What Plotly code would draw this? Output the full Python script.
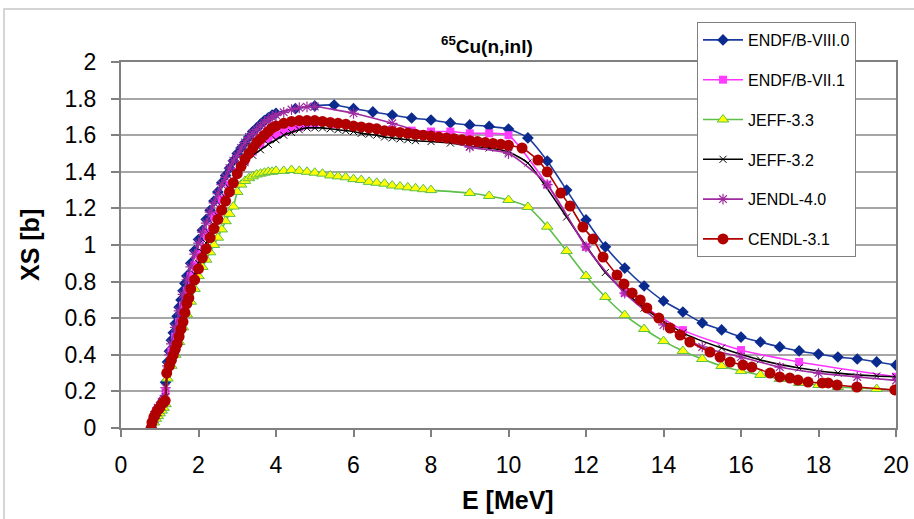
import plotly.graph_objects as go

# ---------------- data ----------------
E_b8 = [0.78, 0.82, 0.86, 0.9, 0.95, 1.0, 1.05, 1.1, 1.15, 1.2, 1.25, 1.3, 1.35, 1.4, 1.45, 1.5, 1.55, 1.6, 1.65, 1.7,
        1.8, 1.9, 2.0, 2.1, 2.2, 2.3, 2.4, 2.5, 2.6, 2.7, 2.8, 2.9, 3.0, 3.1, 3.2, 3.3, 3.4, 3.5, 3.6, 3.7, 3.8, 3.9, 4.0,
        4.5, 5.0, 5.5, 6.0, 6.5, 7.0, 7.5, 8.0, 8.5, 9.0, 9.5, 10.0, 10.5, 11.0, 11.5, 12.0, 12.5, 13.0, 13.5, 14.0,
        14.5, 15.0, 15.5, 16.0, 16.5, 17.0, 17.5, 18.0, 18.5, 19.0, 19.5, 20.0]
XS_b8 = [0.0, 0.03, 0.06, 0.08, 0.10, 0.12, 0.14, 0.16, 0.25, 0.36, 0.42, 0.48, 0.52, 0.57, 0.61, 0.66, 0.70, 0.75, 0.79, 0.83,
         0.90, 0.97, 1.03, 1.08, 1.14, 1.19, 1.24, 1.29, 1.34, 1.38, 1.42, 1.46, 1.50, 1.53, 1.56, 1.59, 1.62, 1.64, 1.66, 1.68, 1.695, 1.71, 1.72,
         1.745, 1.76, 1.765, 1.745, 1.727, 1.71, 1.694, 1.683, 1.667, 1.656, 1.648, 1.634, 1.585, 1.459, 1.30, 1.137, 0.99, 0.874, 0.776, 0.694,
         0.634, 0.574, 0.536, 0.497, 0.47, 0.443, 0.421, 0.404, 0.388, 0.377, 0.361, 0.344]

E_b7 = [0.78, 0.8, 0.85, 0.9, 0.95, 1.0, 1.05, 1.1, 1.15, 1.2, 1.3, 1.4, 1.5, 1.6, 1.7, 1.8, 1.9, 2.0, 2.2, 2.4, 2.6, 2.8,
        3.0, 3.2, 3.4, 3.6, 3.8, 4.0, 4.2, 4.4, 4.6, 4.8, 5.0, 5.5, 6.0, 6.5, 7.0, 7.5, 8.0, 8.5, 9.0, 9.5, 10.0,
        11.0, 12.0, 13.0, 14.5, 16.0, 17.5, 20.0]
XS_b7 = [0.0, 0.03, 0.06, 0.08, 0.10, 0.11, 0.13, 0.15, 0.20, 0.32, 0.42, 0.50, 0.58, 0.67, 0.75, 0.83, 0.89, 0.95, 1.06, 1.16, 1.25, 1.33,
         1.40, 1.46, 1.51, 1.55, 1.58, 1.60, 1.62, 1.635, 1.645, 1.655, 1.66, 1.66, 1.65, 1.64, 1.63, 1.625, 1.62, 1.62, 1.61, 1.61, 1.60,
         1.33, 0.99, 0.74, 0.535, 0.426, 0.361, 0.28]

E_j33 = [0.78, 0.85, 0.9, 0.95, 1.0, 1.05, 1.1, 1.15, 1.2, 1.3, 1.4, 1.5, 1.6, 1.7, 1.8, 1.9, 2.0, 2.1, 2.2, 2.3, 2.4, 2.5,
         2.6, 2.7, 2.8, 2.9, 3.0, 3.1, 3.2, 3.3, 3.4, 3.5, 3.6, 3.7, 3.8, 3.9, 4.0, 4.2, 4.4, 4.6, 4.8, 5.0, 5.2, 5.4,
         5.6, 5.8, 6.0, 6.2, 6.4, 6.6, 6.8, 7.0, 7.2, 7.4, 7.6, 7.8, 8.0, 9.0, 9.5, 10.0, 10.5, 11.0, 11.5, 12.0,
         12.5, 13.0, 13.5, 14.0, 14.5, 15.0, 15.5, 16.0, 16.5, 17.0, 17.5, 18.0, 18.5, 19.0, 19.5, 20.0]
XS_j33 = [0.0, 0.03, 0.05, 0.065, 0.08, 0.095, 0.11, 0.13, 0.27, 0.34, 0.40, 0.47, 0.55, 0.62, 0.69, 0.76, 0.83, 0.88, 0.92, 0.96, 1.00, 1.04,
          1.085, 1.13, 1.17, 1.21, 1.29, 1.33, 1.35, 1.365, 1.375, 1.385, 1.39, 1.395, 1.40, 1.40, 1.405, 1.405, 1.41, 1.405, 1.40, 1.395, 1.39, 1.38,
          1.375, 1.37, 1.36, 1.355, 1.345, 1.34, 1.335, 1.325, 1.32, 1.315, 1.31, 1.305, 1.30, 1.284, 1.268, 1.246, 1.208, 1.10, 0.967, 0.831,
          0.716, 0.617, 0.541, 0.475, 0.421, 0.377, 0.339, 0.311, 0.29, 0.268, 0.246, 0.235, 0.224, 0.219, 0.213, 0.208]

E_j32 = [0.78, 0.85, 0.9, 0.95, 1.0, 1.05, 1.1, 1.15, 1.2, 1.3, 1.4, 1.5, 1.6, 1.7, 1.8, 1.9, 2.0, 2.1, 2.2, 2.3, 2.4, 2.5,
         2.6, 2.7, 2.8, 2.9, 3.0, 3.2, 3.4, 3.6, 3.8, 4.0, 4.2, 4.4, 4.6, 4.8, 5.0, 5.2, 5.4, 5.6, 5.8, 6.0, 6.2, 6.4,
         6.6, 6.8, 7.0, 7.2, 7.4, 7.6, 8.0, 8.5, 9.0, 9.5, 10.0, 10.5, 11.5, 12.5, 13.5, 14.5, 15.5, 16.5, 17.5,
         18.5, 19.5, 20.0]
XS_j32 = [0.0, 0.05, 0.07, 0.085, 0.10, 0.12, 0.14, 0.17, 0.31, 0.39, 0.46, 0.54, 0.62, 0.70, 0.77, 0.84, 0.90, 0.96, 1.01, 1.06, 1.11, 1.16,
          1.21, 1.26, 1.31, 1.35, 1.39, 1.45, 1.49, 1.52, 1.55, 1.575, 1.60, 1.615, 1.63, 1.64, 1.64, 1.64, 1.635, 1.63, 1.625, 1.62, 1.61, 1.605,
          1.60, 1.59, 1.585, 1.58, 1.575, 1.57, 1.565, 1.557, 1.54, 1.53, 1.508, 1.448, 1.153, 0.85, 0.655, 0.52, 0.437, 0.372, 0.328,
          0.30, 0.284, 0.279]

E_jendl = [0.78, 0.82, 0.86, 0.9, 0.95, 1.0, 1.05, 1.1, 1.15, 1.2, 1.25, 1.3, 1.4, 1.5, 1.6, 1.7, 1.8, 1.9, 2.0, 2.1, 2.2,
           2.3, 2.4, 2.5, 2.6, 2.7, 2.8, 2.9, 3.0, 3.1, 3.2, 3.3, 3.4, 3.5, 3.6, 3.7, 3.8, 3.9, 4.0, 4.2, 4.4, 4.6,
           4.8, 5.0, 6.0, 7.0, 8.0, 9.0, 10.0, 11.0, 12.0, 13.0, 14.0, 15.0, 16.0, 17.0, 18.0, 19.0, 20.0]
XS_jendl = [0.0, 0.04, 0.07, 0.09, 0.11, 0.12, 0.14, 0.16, 0.22, 0.34, 0.40, 0.46, 0.55, 0.64, 0.73, 0.81, 0.88, 0.95, 1.01, 1.07, 1.12,
            1.18, 1.23, 1.28, 1.33, 1.37, 1.42, 1.46, 1.49, 1.53, 1.56, 1.59, 1.61, 1.63, 1.65, 1.67, 1.685, 1.70, 1.71, 1.725, 1.74, 1.75,
            1.755, 1.757, 1.72, 1.665, 1.60, 1.535, 1.50, 1.33, 0.99, 0.737, 0.563, 0.443, 0.388, 0.333, 0.30, 0.279, 0.26]

E_cendl = [0.78, 0.8, 0.85, 0.9, 0.95, 1.0, 1.05, 1.1, 1.14, 1.18, 1.25, 1.3, 1.35, 1.4, 1.45, 1.5, 1.55, 1.6, 1.65, 1.7,
           1.75, 1.8, 1.9, 2.0, 2.1, 2.2, 2.3, 2.4, 2.5, 2.6, 2.7, 2.8, 2.9, 3.0, 3.1, 3.2, 3.3, 3.4, 3.5, 3.6, 3.7,
           3.8, 3.9, 4.0, 4.2, 4.4, 4.6, 4.8, 5.0, 5.2, 5.4, 5.6, 5.8, 6.0, 6.2, 6.4, 6.6, 6.8, 7.0, 7.2, 7.4, 7.6,
           7.8, 8.0, 8.2, 8.4, 8.6, 8.8, 9.0, 9.2, 9.4, 9.6, 9.8, 10.0, 10.35, 10.76, 11.0, 11.35, 11.59, 11.92, 12.18,
           12.44, 12.8, 12.98, 13.19, 13.4, 13.57, 13.88, 14.17, 14.43, 14.68, 15.2, 15.46, 15.72, 16.05, 16.28, 16.75,
           17.0, 17.26, 17.47, 17.73, 18.1, 18.25, 18.48, 18.99, 19.97]
XS_cendl = [0.0, 0.03, 0.06, 0.08, 0.10, 0.11, 0.13, 0.14, 0.15, 0.30, 0.34, 0.37, 0.40, 0.43, 0.46, 0.50, 0.54, 0.58, 0.63, 0.68,
            0.71, 0.76, 0.81, 0.87, 0.93, 0.98, 1.04, 1.09, 1.14, 1.19, 1.24, 1.29, 1.34, 1.39, 1.43, 1.47, 1.50, 1.53, 1.56, 1.58, 1.60,
            1.62, 1.64, 1.65, 1.665, 1.675, 1.68, 1.68, 1.68, 1.675, 1.67, 1.665, 1.66, 1.65, 1.645, 1.64, 1.635, 1.625, 1.62, 1.615, 1.61, 1.605,
            1.60, 1.595, 1.59, 1.585, 1.58, 1.575, 1.57, 1.565, 1.56, 1.555, 1.55, 1.545, 1.53, 1.464, 1.40, 1.284, 1.213, 1.098, 1.033,
            0.934, 0.836, 0.787, 0.738, 0.70, 0.656, 0.601, 0.546, 0.508, 0.47, 0.415, 0.388, 0.36, 0.344, 0.333, 0.30,
            0.279, 0.273, 0.262, 0.251, 0.246, 0.246, 0.235, 0.224, 0.208]

x_ticks = [0, 2, 4, 6, 8, 10, 12, 14, 16, 18, 20]
y_ticks = [0, 0.2, 0.4, 0.6, 0.8, 1.0, 1.2, 1.4, 1.6, 1.8, 2.0]
y_labels = ["0", "0.2", "0.4", "0.6", "0.8", "1", "1.2", "1.4", "1.6", "1.8", "2"]

FONT = "Liberation Sans, Arial, sans-serif"

fig = go.Figure()

def add(name, x, y, lcolor, symbol, mcolor, msize, mline_color=None, mline_w=0, lw=1.6):
    fig.add_trace(go.Scatter(
        x=x, y=y, name=name, mode="lines+markers", legendgroup=name,
        line=dict(color=lcolor, width=lw, shape="spline", smoothing=0.6),
        marker=dict(symbol=symbol, color=mcolor, size=msize,
                    line=dict(color=mline_color if mline_color else mcolor, width=mline_w)),
    ))

add("ENDF/B-VIII.0", E_b8, XS_b8, "#1a3a9e", "diamond", "#0a2a8e", 9)
add("ENDF/B-VII.1", E_b7, XS_b7, "#ff33ff", "square", "#ff3cff", 8)
add("JEFF-3.3", E_j33, XS_j33, "#5cbf4a", "triangle-up", "#ffff00", 10, "#5cbf4a", 1)
add("JEFF-3.2", E_j32, XS_j32, "#000000", "x-thin", "#000000", 7, "#000000", 1)
add("JENDL-4.0", E_jendl, XS_jendl, "#a02aa0", "asterisk", "#a02aa0", 9, "#a02aa0", 1.2)
add("CENDL-3.1", E_cendl, XS_cendl, "#b00000", "circle", "#b00000", 11)

fig.update_layout(
    width=914, height=519,
    margin=dict(l=121, r=18, t=62, b=91, autoexpand=False),
    paper_bgcolor="white", plot_bgcolor="white",
    font=dict(family=FONT, color="black"),
    showlegend=True,
    legend=dict(x=(697 - 121) / 775, y=(428 - 22) / 366, xanchor="left", yanchor="top",
                bgcolor="white", bordercolor="#808080", borderwidth=1,
                font=dict(family=FONT, size=16, color="black"),
                traceorder="grouped", tracegroupgap=16, itemwidth=40),
    xaxis=dict(range=[0, 20], tickvals=x_ticks, ticktext=[str(v) for v in x_ticks], automargin=False,
               showgrid=False, zeroline=False, showline=True, linecolor="#808080", linewidth=2,
               mirror=True, ticks="outside", ticklen=7, tickcolor="#808080", tickwidth=1.5,
               tickfont=dict(family=FONT, size=23), ticklabelstandoff=8),
    yaxis=dict(range=[0, 2], tickvals=y_ticks, ticktext=y_labels, automargin=False,
               showgrid=True, gridcolor="#a6a6a6", gridwidth=1.5, zeroline=False,
               showline=True, linecolor="#808080", linewidth=2, mirror=True,
               ticks="outside", ticklen=8, tickcolor="#808080", tickwidth=1.5,
               tickfont=dict(family=FONT, size=23), ticklabelstandoff=10),
    annotations=[
        dict(text="<b><sup>65</sup>Cu(n,inl)</b>", xref="paper", yref="paper",
             x=(487 - 121) / 775, y=(428 - 45) / 366, xanchor="center", yanchor="middle",
             showarrow=False, font=dict(family=FONT, size=19)),
        dict(text="<b>E [MeV]</b>", xref="paper", yref="paper",
             x=0.499, y=(428 - 500) / 366, xanchor="center", yanchor="middle",
             showarrow=False, font=dict(family=FONT, size=25)),
        dict(text="<b>XS [b]</b>", xref="paper", yref="paper", textangle=-90,
             x=(30 - 121) / 775, y=0.5, xanchor="center", yanchor="middle",
             showarrow=False, font=dict(family=FONT, size=25)),
    ],
    shapes=[
        dict(type="rect", xref="paper", yref="paper", layer="below",
             x0=(4 - 121) / 775, x1=1.05, y0=-0.3, y1=(428 - 9) / 366,
             line=dict(color="#c8c8c8", width=1.5), fillcolor="rgba(0,0,0,0)"),
    ],
)

fig.write_html("out.html")
